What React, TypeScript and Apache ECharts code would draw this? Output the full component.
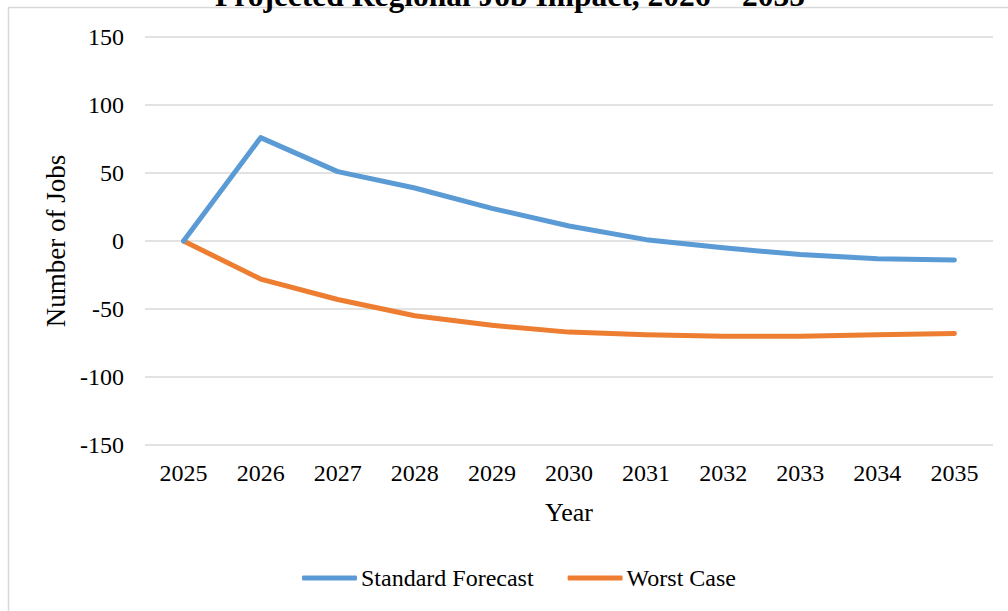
import React, { useEffect, useRef } from "react";
import * as echarts from "echarts";

const titleText = "Projected Regional Job Impact, 2026 – 2035";
const years = ["2025", "2026", "2027", "2028", "2029", "2030", "2031", "2032", "2033", "2034", "2035"];
const standardForecast = [0, 76, 51, 39, 24, 11, 1, -5, -10, -13, -14];
const worstCase = [0, -28, -43, -55, -62, -67, -69, -70, -70, -69, -68];
const seriesNames = ["Standard Forecast", "Worst Case"];
const FONT = "'Liberation Serif', 'Times New Roman', serif";

export default function App() {
  const ref = useRef<HTMLDivElement>(null);
  useEffect(() => {
    if (!ref.current) return;
    const chart = echarts.init(ref.current, null, { renderer: "svg" });
    chart.setOption({
      animation: false,
      backgroundColor: "#ffffff",
      textStyle: { fontFamily: FONT },
      title: {
        text: titleText,
        left: 210,
        top: -26,
        textStyle: { fontFamily: FONT, fontSize: 31.5, fontWeight: "bold", color: "#000" },
      },
      graphic: [
        {
          type: "rect",
          shape: { x: 8.5, y: 7.5, width: 1100, height: 700 },
          style: { fill: "none", stroke: "#d9d9d9", lineWidth: 1.5 },
          silent: true,
          z: -1,
        },
      ],
      grid: { left: 145, right: 15, top: 37, bottom: 166, containLabel: false },
      legend: {
        left: 302,
        top: 566,
        padding: 0,
        icon: "roundRect",
        itemWidth: 55,
        itemHeight: 5,
        itemGap: 34,
        textStyle: { fontFamily: FONT, fontSize: 24, color: "#000", padding: [0, 0, 0, -1] },
        data: seriesNames,
      },
      xAxis: {
        type: "category",
        data: years,
        boundaryGap: true,
        axisLine: { show: false },
        axisTick: { show: false },
        axisLabel: { margin: 16, fontFamily: FONT, fontSize: 24, color: "#000" },
        name: "Year",
        nameLocation: "middle",
        nameGap: 54,
        nameTextStyle: { fontFamily: FONT, fontSize: 26, color: "#000" },
      },
      yAxis: {
        type: "value",
        min: -150,
        max: 150,
        interval: 50,
        axisLine: { show: false },
        axisTick: { show: false },
        splitLine: { lineStyle: { color: "#d9d9d9", width: 1.5 } },
        axisLabel: { margin: 21, fontFamily: FONT, fontSize: 24, color: "#000" },
        name: "Number of Jobs",
        nameLocation: "middle",
        nameRotate: 90,
        nameGap: 86,
        nameTextStyle: { fontFamily: FONT, fontSize: 27, color: "#000", verticalAlign: "middle" },
      },
      series: [
        {
          name: seriesNames[0],
          type: "line",
          data: standardForecast,
          symbol: "none",
          lineStyle: { color: "#5b9bd5", width: 5, cap: "round", join: "round" },
          itemStyle: { color: "#5b9bd5" },
          z: 3,
        },
        {
          name: seriesNames[1],
          type: "line",
          data: worstCase,
          symbol: "none",
          lineStyle: { color: "#ed7d31", width: 5, cap: "round", join: "round" },
          itemStyle: { color: "#ed7d31" },
          z: 2,
        },
      ],
    });
    return () => chart.dispose();
  }, []);
  return (
    <div
      ref={ref}
      style={{ position: "absolute", left: 0, top: 0, width: 1008, height: 611 }}
    />
  );
}
